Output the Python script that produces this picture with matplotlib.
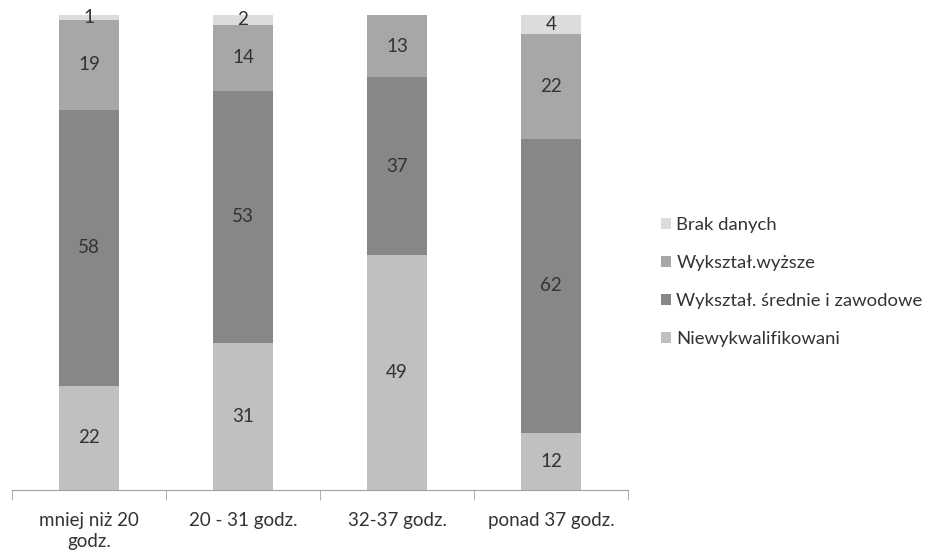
import numpy as np
import matplotlib.pyplot as plt

categories = ["mniej niż 20\ngodz.", "20 - 31 godz.", "32-37 godz.", "ponad 37 godz."]
niewykwalifikowani = [22, 31, 49, 12]
srednie_zawodowe = [58, 53, 37, 62]
wyzsze = [19, 14, 13, 22]
brak_danych = [1, 2, 0, 4]

series = [
    ("Niewykwalifikowani", niewykwalifikowani, "#c0c0c3"),
    ("Wykształ. średnie i zawodowe", srednie_zawodowe, "#87878a"),
    ("Wykształ.wyższe", wyzsze, "#a7a7aa"),
    ("Brak danych", brak_danych, "#dcdcde"),
]

plt.rcParams["font.family"] = ["Lato", "DejaVu Sans"]

fig = plt.figure(figsize=(9.39, 5.53), dpi=100)
ax = fig.add_axes([12 / 939, 1 - 490 / 553, 616 / 939, 475 / 553])

x = np.arange(len(categories))
totals = np.sum([s[1] for s in series], axis=0)
bottom = np.zeros(len(categories))
handles = []
for name, vals, color in series:
    share = np.array(vals) / totals * 100
    bars = ax.bar(x, share, width=0.39, bottom=bottom, color=color, label=name)
    handles.append(bars)
    for xi, v, b, s in zip(x, vals, bottom, share):
        if v > 0:
            ax.text(xi, b + s / 2, str(v), ha="center", va="center",
                    fontsize=13.5, color="#333333")
    bottom += share

ax.set_xlim(-0.5, len(categories) - 0.5)
ax.set_ylim(0, 100)
ax.set_yticks([])
ax.set_xticks(x)
ax.set_xticklabels(categories, fontsize=13.5, color="#333333", linespacing=1.3)
ax.tick_params(axis="x", which="major", length=0, pad=16)
ax.set_xticks(np.arange(-0.5, len(categories)), minor=True)
ax.tick_params(axis="x", which="minor", length=7, color="#a0a0a0", direction="out")
for side in ["top", "right", "left"]:
    ax.spines[side].set_visible(False)
ax.spines["bottom"].set_color("#a0a0a0")

leg = fig.legend(handles[::-1], [s[0] for s in series][::-1],
                 loc="center left", bbox_to_anchor=(644 / 939, 1 - 282 / 553),
                 frameon=False, fontsize=13.3, labelcolor="#333333",
                 handlelength=0.55, handleheight=0.55, handletextpad=0.3,
                 labelspacing=1.2)

fig.savefig("out.png", dpi=100)
